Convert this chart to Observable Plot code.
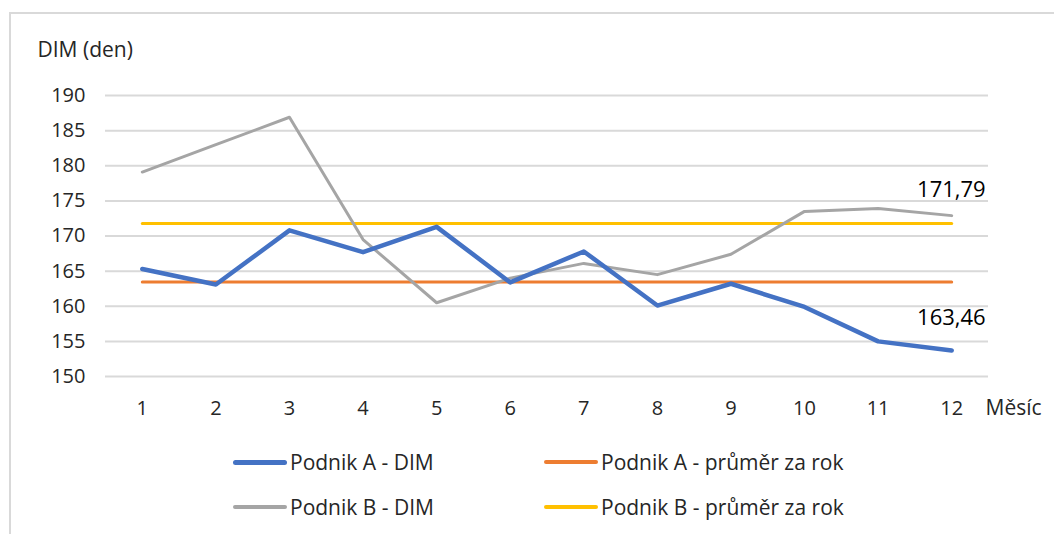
<!DOCTYPE html>
<html>
<head>
<meta charset="utf-8">
<script src="https://cdn.jsdelivr.net/npm/d3@7"></script>
<script src="https://cdn.jsdelivr.net/npm/@observablehq/plot@0.6"></script>
<style>
  html, body { margin: 0; padding: 0; background: #fff; }
  #wrap { position: relative; width: 1054px; height: 534px; overflow: hidden; font-family: "Open Sans", "Noto Sans", sans-serif; color: #262626; }
  #frame { position: absolute; left: 9px; top: 12px; width: 1200px; height: 700px; border-left: 2px solid #d9d9d9; border-top: 2px solid #d9d9d9; }
  #chart { position: absolute; left: 0; top: 0; }
  .lg { position: absolute; font-size: 21px; line-height: 26px; display: flex; align-items: center; white-space: nowrap; }
  .sw { display: inline-block; width: 54px; border-radius: 3px; margin-right: 3px; }
</style>
</head>
<body>
<div id="wrap">
  <div id="frame"></div>
  <div id="chart"></div>
  <div id="legend"></div>
</div>
<script>
const months = [1, 2, 3, 4, 5, 6, 7, 8, 9, 10, 11, 12];
const podnikA = [165.3, 163.1, 170.8, 167.7, 171.3, 163.4, 167.8, 160.1, 163.2, 159.9, 155.0, 153.7];
const podnikB = [179.1, 183.0, 186.9, 169.5, 160.5, 164.0, 166.1, 164.5, 167.4, 173.5, 173.9, 172.9];
const prumerA = 163.46;
const prumerB = 171.79;
const yTicks = [150, 155, 160, 165, 170, 175, 180, 185, 190];
const seriesNames = ["Podnik A - DIM", "Podnik A - průměr za rok", "Podnik B - DIM", "Podnik B - průměr za rok"];
const seriesColors = ["#4472C4", "#ED7D31", "#A5A5A5", "#FFC000"];
const seriesWidths = [4.5, 3, 3, 3];
const labelFmt = v => v.toFixed(2).replace(".", ",");

const dataA = months.map((m, i) => ({m, v: podnikA[i]}));
const dataB = months.map((m, i) => ({m, v: podnikB[i]}));
const avgA = months.map(m => ({m, v: prumerA}));
const avgB = months.map(m => ({m, v: prumerB}));

const plot = Plot.plot({
  width: 1054,
  height: 430,
  marginLeft: 105,
  marginRight: 66,
  marginTop: 95,
  marginBottom: 54,
  style: {fontFamily: "'Open Sans', 'Noto Sans', sans-serif", fontSize: "20px", color: "#262626", background: "transparent"},
  x: {type: "point", domain: months, padding: 0.5, round: false},
  y: {domain: [150, 190]},
  marks: [
    Plot.gridY(yTicks, {stroke: "#d9d9d9", strokeOpacity: 1, strokeWidth: 2}),
    Plot.axisY(yTicks, {tickSize: 0, tickPadding: 20, label: null, fontSize: 20}),
    Plot.axisX(months, {tickSize: 0, tickPadding: 24, label: null, fontSize: 20}),
    Plot.text(["DIM (den)"], {frameAnchor: "top-left", dx: -68, dy: -45, textAnchor: "start", lineAnchor: "middle", fontSize: 21, fill: "#262626"}),
    Plot.text(["Měsíc"], {frameAnchor: "bottom-right", dx: -3, dy: 32, textAnchor: "start", lineAnchor: "middle", fontSize: 21, fill: "#262626"}),
    Plot.line(avgA, {x: "m", y: "v", stroke: seriesColors[1], strokeWidth: seriesWidths[1]}),
    Plot.line(avgB, {x: "m", y: "v", stroke: seriesColors[3], strokeWidth: seriesWidths[3]}),
    Plot.line(dataB, {x: "m", y: "v", stroke: seriesColors[2], strokeWidth: seriesWidths[2]}),
    Plot.line(dataA, {x: "m", y: "v", stroke: seriesColors[0], strokeWidth: seriesWidths[0], strokeLinecap: "round"}),
    Plot.text([{m: 12, v: prumerB}], {x: "m", y: "v", text: d => labelFmt(d.v), dx: 34, dy: -33, textAnchor: "end", lineAnchor: "middle", fontSize: 22, fill: "#000"}),
    Plot.text([{m: 12, v: prumerA}], {x: "m", y: "v", text: d => labelFmt(d.v), dx: 34, dy: 36, textAnchor: "end", lineAnchor: "middle", fontSize: 22, fill: "#000"})
  ]
});
document.getElementById("chart").appendChild(plot);

const legendPos = [[233, 462], [544, 462], [233, 507], [544, 507]];
const legend = document.getElementById("legend");
seriesNames.forEach((name, i) => {
  const item = document.createElement("div");
  item.className = "lg";
  item.style.left = legendPos[i][0] + "px";
  item.style.top = (legendPos[i][1] - 13) + "px";
  const sw = document.createElement("span");
  sw.className = "sw";
  sw.style.height = (i === 0 ? 5 : 4) + "px";
  sw.style.background = seriesColors[i];
  item.appendChild(sw);
  item.appendChild(document.createTextNode(name));
  legend.appendChild(item);
});
</script>
</body>
</html>
